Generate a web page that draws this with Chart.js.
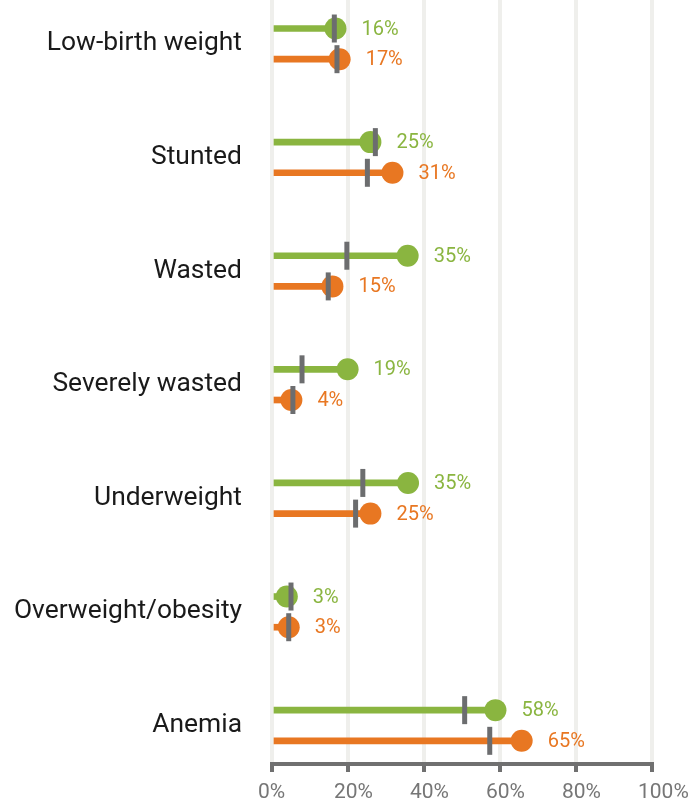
<!DOCTYPE html>
<html>
<head>
<meta charset="utf-8">
<script src="https://cdn.jsdelivr.net/npm/chart.js@4.4.1/dist/chart.umd.min.js"></script>
<style>
  html,body{margin:0;padding:0;background:#fff;}
  #wrap{width:689px;height:799px;}
</style>
</head>
<body>
<div id="wrap"><canvas id="chart" width="689" height="799"></canvas></div>
<script>
// categories, top to bottom
const categories=['Low-birth weight','Stunted','Wasted','Severely wasted','Underweight','Overweight/obesity','Anemia'];
// green series (dots) and its reference marks
const greenVals=[16.7,25.9,35.7,19.9,35.8,3.9,58.8];
const greenRef=[16.4,27.2,19.7,7.9,23.9,5.0,50.7];
const greenLabels=['16%','25%','35%','19%','35%','3%','58%'];
// orange series (dots) and its reference marks
const orangeVals=[17.8,31.7,15.9,5.1,25.9,4.4,65.7];
const orangeRef=[17.1,25.1,14.8,5.5,22.0,4.4,57.3];
const orangeLabels=['17%','31%','15%','4%','25%','3%','65%'];
const xTicks=[0,20,40,60,80,100];

const GREEN='#8ab540', ORANGE='#e87722', MARK='#6c6d6f';
const ROW=0.135; // half the gap between the two rows of a category

const pts=(vals,off)=>vals.map((v,i)=>({x:v,y:i+off}));
const segs=(vals,off)=>vals.map((v,i)=>({x:[0,v],y:i+off}));

const valueLabels={
  id:'valueLabels',
  afterDatasetsDraw(chart){
    const ctx=chart.ctx;
    chart.data.datasets.forEach((ds,di)=>{
      if(!ds.valueLabels)return;
      const meta=chart.getDatasetMeta(di);
      ctx.save();
      ctx.font='20px Roboto';
      ctx.fillStyle=ds.backgroundColor;
      ctx.textAlign='left'; ctx.textBaseline='middle';
      meta.data.forEach((el,i)=>ctx.fillText(ds.valueLabels[i],el.x+26,el.y+1));
      ctx.restore();
    });
  }
};

new Chart(document.getElementById('chart'),{
  type:'bar',
  data:{datasets:[
    {type:'scatter',data:pts(greenRef,-ROW),pointStyle:'line',rotation:90,pointRadius:14,borderWidth:5,borderColor:MARK,order:0},
    {type:'scatter',data:pts(orangeRef,ROW),pointStyle:'line',rotation:90,pointRadius:14,borderWidth:5,borderColor:MARK,order:0},
    {type:'scatter',data:pts(greenVals,-ROW),pointRadius:11,borderWidth:0,backgroundColor:GREEN,valueLabels:greenLabels,order:1},
    {type:'scatter',data:pts(orangeVals,ROW),pointRadius:11,borderWidth:0,backgroundColor:ORANGE,valueLabels:orangeLabels,order:1},
    {type:'bar',indexAxis:'y',grouped:false,data:segs(greenVals,-ROW),barThickness:6,backgroundColor:GREEN,order:2},
    {type:'bar',indexAxis:'y',grouped:false,data:segs(orangeVals,ROW),barThickness:6,backgroundColor:ORANGE,order:2}
  ]},
  options:{
    responsive:false,animation:false,
    layout:{autoPadding:false,padding:{left:0,right:37,top:0,bottom:0}},
    plugins:{legend:{display:false},tooltip:{enabled:false}},
    scales:{
      x:{type:'linear',min:0,max:100,offset:false,beginAtZero:false,
        afterBuildTicks:s=>{s.ticks=xTicks.map(v=>({value:v}));},
        afterFit:s=>{s.paddingLeft=0;s.paddingRight=0;s.height=35;},
        border:{color:'#707070',width:4},
        grid:{offset:false,color:'#efefec',lineWidth:4,tickColor:'#707070',tickLength:8,tickWidth:4},
        ticks:{align:'start',labelOffset:-14,padding:8,color:'#767676',font:{family:'Roboto',size:21},callback:v=>v+'%'}
      },
      y:{type:'linear',min:-0.386,max:6.339,reverse:true,offset:false,beginAtZero:false,
        afterBuildTicks:s=>{s.ticks=categories.map((c,i)=>({value:i}));},
        afterFit:s=>{s.width=272;s.paddingTop=0;s.paddingBottom=0;},
        border:{display:false},
        grid:{display:false,drawTicks:false,offset:false},
        ticks:{padding:30,color:'#1a1a1a',font:{family:'Roboto',size:26.4},callback:v=>categories[v]}
      }
    }
  },
  plugins:[valueLabels]
});
</script>
</body>
</html>
